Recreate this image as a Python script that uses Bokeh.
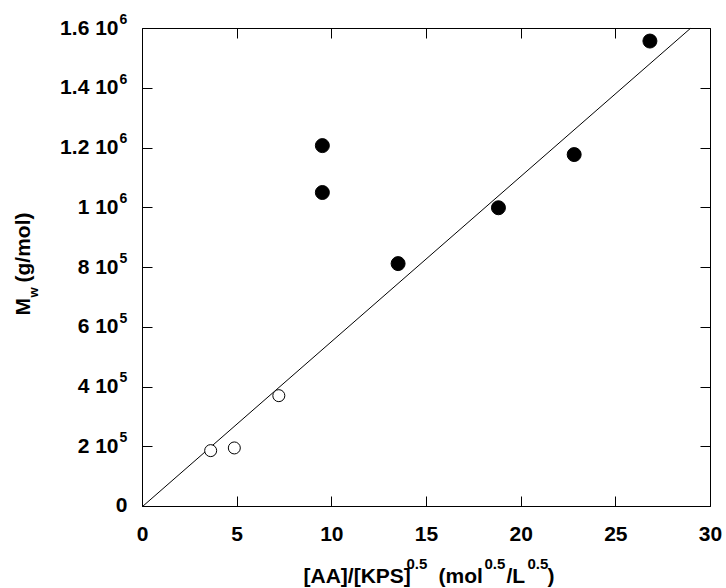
import math
from bokeh.plotting import figure
from bokeh.models import Range1d, LinearAxis, Label, FixedTicker, ColumnDataSource
from bokeh.embed import file_html
from bokeh.resources import INLINE

# data
open_x = [3.6, 4.85, 7.2]
open_y = [187000, 196000, 371000]
filled_x = [9.5, 9.5, 13.5, 18.8, 22.8, 26.8]
filled_y = [1208000, 1051000, 813000, 1000000, 1178000, 1558000]
fit_slope = 55300.0   # regression line through the origin

x_min, x_max = 0, 30
y_min, y_max = 0, 1600000
x_ticks = [0, 5, 10, 15, 20, 25, 30]
y_ticks = [0, 200000, 400000, 600000, 800000, 1000000, 1200000, 1400000, 1600000]
y_tick_mantissa = ["0", "2 10", "4 10", "6 10", "8 10", "1 10", "1.2 10", "1.4 10", "1.6 10"]
y_tick_exponent = ["", "5", "5", "5", "5", "6", "6", "6", "6"]

FONT = "Liberation Sans"

# The frame fills the whole canvas; the axes sit at fixed data locations so that
# the text annotations around the plotting box stay inside the (clipped) frame.
W, H = 726, 588
box_left, box_top, box_right, box_bottom = 142, 28, 710, 506
sx = (x_max - x_min) / (box_right - box_left)
sy = (y_max - y_min) / (box_bottom - box_top)
x_range = Range1d(x_min - box_left * sx, x_max + (W - box_right) * sx)
y_range = Range1d(y_min - (H - box_bottom) * sy, y_max + box_top * sy)

p = figure(width=W, height=H, output_backend="svg", toolbar_location=None,
           x_range=x_range, y_range=y_range,
           min_border_left=0, min_border_right=0, min_border_top=0, min_border_bottom=0,
           x_axis_type=None, y_axis_type=None)
p.grid.visible = False
p.outline_line_color = None
p.background_fill_color = "white"
p.border_fill_color = "white"


def make_axis(ticks, loc, bounds, labels=False):
    ax = LinearAxis(ticker=FixedTicker(ticks=ticks), fixed_location=loc, bounds=bounds)
    ax.axis_line_color = "black"
    ax.axis_line_width = 1
    ax.major_tick_line_color = "black"
    ax.major_tick_line_width = 1
    ax.major_tick_in = 10
    ax.major_tick_out = 0
    ax.minor_tick_line_color = None
    ax.major_label_text_font = FONT
    ax.major_label_text_font_style = "bold"
    ax.major_label_text_color = "black"
    if labels:
        ax.major_label_text_font_size = "21px"
        ax.major_label_standoff = 20
    else:
        ax.major_label_text_font_size = "0px"
        ax.major_label_standoff = 0
        ax.major_label_text_color = None
    return ax


p.add_layout(make_axis(x_ticks, y_min, (x_min, x_max), labels=True), "below")
p.add_layout(make_axis(y_ticks, x_min, (y_min, y_max)), "left")
p.add_layout(make_axis(x_ticks, y_max, (x_min, x_max)), "above")
p.add_layout(make_axis(y_ticks, x_max, (y_min, y_max)), "right")

# fit line, from the origin up to the top of the box
fit_x = [0.0, min(x_max, y_max / fit_slope)]
fit_src = ColumnDataSource(dict(x=fit_x, y=[fit_slope * v for v in fit_x]))
p.line("x", "y", source=fit_src, line_color="black", line_width=1)

# markers
p.scatter(filled_x, filled_y, marker="circle", size=14, fill_color="black", line_color="black")
p.scatter(open_x, open_y, marker="circle", size=12, fill_color="white", line_color="black",
          line_width=1)

SHIFT = 0.4  # baseline correction (in em) observed for Label text


def lab(x, y, dx, dy, text, size, angle=0.0, align="left"):
    if angle:
        dx -= SHIFT * size
    else:
        dy += SHIFT * size
    p.add_layout(Label(x=x, y=y, x_units="data", y_units="data", x_offset=dx, y_offset=dy,
                       text=text, text_font=FONT, text_font_style="bold",
                       text_font_size=f"{size}px", text_color="black", text_align=align,
                       text_baseline="alphabetic", angle=angle))


# y tick labels with superscript exponents
for t, m, e in zip(y_ticks, y_tick_mantissa, y_tick_exponent):
    if e:
        lab(x_min, t, -24, -7, m, 21, align="right")
        lab(x_min, t, -23, 4, e, 14, align="left")
    else:
        lab(x_min, t, -15, -7, m, 21, align="right")

# x axis title: [AA]/[KPS]^0.5 (mol^0.5/L^0.5)
lab(x_min, y_min, 161, -77, "[AA]/[KPS]", 21)
lab(x_min, y_min, 264, -63, "0.5", 15)
lab(x_min, y_min, 296, -77, "(mol", 21)
lab(x_min, y_min, 342, -63, "0.5", 15)
lab(x_min, y_min, 364, -77, "/L", 21)
lab(x_min, y_min, 385, -63, "0.5", 15)
lab(x_min, y_min, 405, -77, ")", 21)

# y axis title: M_w (g/mol)
a = math.pi / 2
lab(x_min, y_min, -112, 191, "M", 21, a)
lab(x_min, y_min, -104, 209, "w", 13, a)
lab(x_min, y_min, -112, 224, "(g/mol)", 21, a)

open("out.html", "w").write(file_html(p, INLINE))
